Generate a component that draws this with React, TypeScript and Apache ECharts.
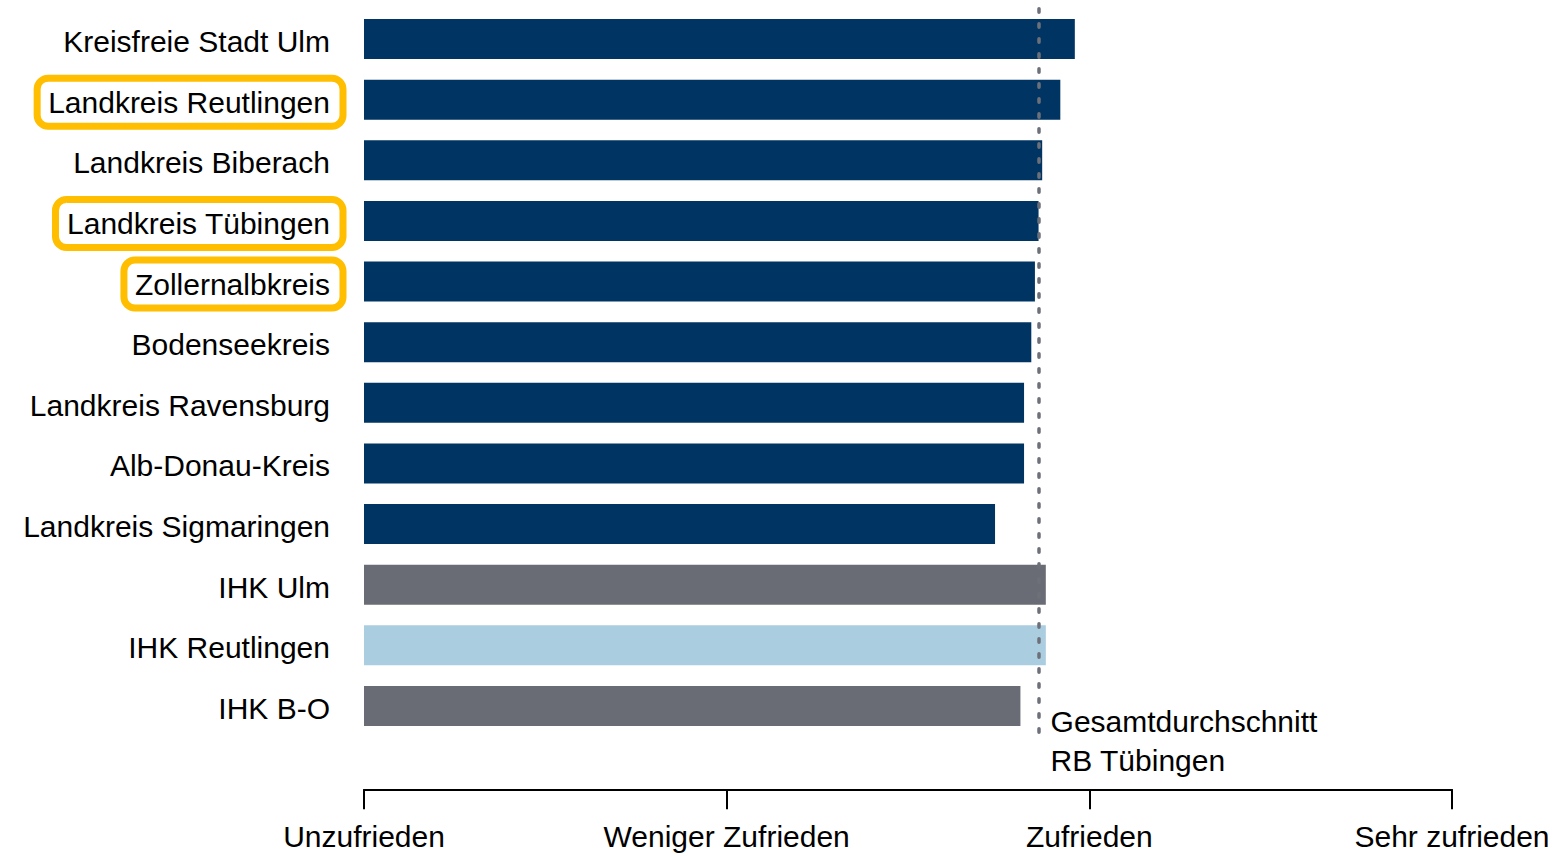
import React, { useEffect, useRef } from "react";
import * as echarts from "echarts";

const categories = [
  "Kreisfreie Stadt Ulm",
  "Landkreis Reutlingen",
  "Landkreis Biberach",
  "Landkreis Tübingen",
  "Zollernalbkreis",
  "Bodenseekreis",
  "Landkreis Ravensburg",
  "Alb-Donau-Kreis",
  "Landkreis Sigmaringen",
  "IHK Ulm",
  "IHK Reutlingen",
  "IHK B-O",
];
const values = [2.96, 2.92, 2.87, 2.86, 2.85, 2.84, 2.82, 2.82, 2.74, 2.88, 2.88, 2.81];
const barGroups = [
  "kreis", "kreis", "kreis", "kreis", "kreis", "kreis", "kreis", "kreis", "kreis",
  "ihk", "own", "ihk",
];
const highlighted = ["Landkreis Reutlingen", "Landkreis Tübingen", "Zollernalbkreis"];
const averageValue = 2.86;
const averageLabel = "Gesamtdurchschnitt\nRB Tübingen";
const xTickLabels = ["Unzufrieden", "Weniger Zufrieden", "Zufrieden", "Sehr zufrieden"];

const groupColors: Record<string, string> = {
  kreis: "#003463",
  ihk: "#6A6C75",
  own: "#ABCDE0",
};

const FONT = "'Liberation Sans', Arial, sans-serif";

export default function App() {
  const ref = useRef<HTMLDivElement>(null);

  useEffect(() => {
    document.body.style.margin = "0";
    const chart = echarts.init(ref.current!, undefined, { renderer: "svg" });
    const option: any = {
      animation: false,
      backgroundColor: "#ffffff",
      grid: { left: 364, right: 106, top: 8.7, bottom: 119.7, containLabel: false },
      xAxis: {
        type: "value",
        min: 1,
        max: 4,
        interval: 1,
        offset: 53,
        axisLine: { show: true, lineStyle: { color: "#000", width: 2 } },
        axisTick: { show: true, length: 20, lineStyle: { color: "#000", width: 2 } },
        splitLine: { show: false },
        axisLabel: {
          margin: 32,
          fontSize: 30,
          fontFamily: FONT,
          color: "#000",
          formatter: (v: number) => xTickLabels[Math.round(v) - 1] ?? "",
        },
      },
      yAxis: {
        type: "category",
        data: categories,
        inverse: true,
        axisLine: { show: false },
        axisTick: { show: false },
        axisLabel: {
          margin: 21,
          fontFamily: FONT,
          fontSize: 30,
          color: "#000",
          padding: [5, 0, 0, 0],
          formatter: (v: string) => (highlighted.includes(v) ? `{hl|${v}}` : `{n|${v}}`),
          rich: {
            hl: {
              fontSize: 30,
              fontFamily: FONT,
              color: "#000",
              lineHeight: 34,
              borderColor: "#FFBE00",
              borderWidth: 7,
              borderRadius: 11,
              padding: [9, 13, 9, 11],
            },
            n: {
              fontSize: 30,
              fontFamily: FONT,
              color: "#000",
              lineHeight: 34,
              padding: [9, 13, 9, 11],
            },
          },
        },
      },
      series: [
        {
          type: "bar",
          barWidth: 40,
          data: values.map((v, i) => ({
            value: v,
            itemStyle: { color: groupColors[barGroups[i]] },
          })),
          markLine: {
            silent: true,
            symbol: "none",
            label: { show: false },
            lineStyle: { color: "#6E7079", width: 3.5, type: [3.5, 11.5], cap: "round" },
            data: [{ xAxis: averageValue }],
          },
        },
      ],
    };
    chart.setOption(option);
    const lx = chart.convertToPixel({ xAxisIndex: 0 }, averageValue) as number;
    const ly = chart.convertToPixel({ yAxisIndex: 0 }, categories[categories.length - 1]) as number;
    chart.setOption({
      graphic: [
        {
          type: "text",
          x: lx + 12,
          y: ly - 4,
          style: {
            text: averageLabel,
            fontSize: 30,
            fontFamily: FONT,
            fill: "#000",
            lineHeight: 39,
            textAlign: "left",
            textVerticalAlign: "top",
          },
        },
      ],
    });
    return () => chart.dispose();
  }, []);

  return <div ref={ref} style={{ width: 1558, height: 856 }} />;
}
